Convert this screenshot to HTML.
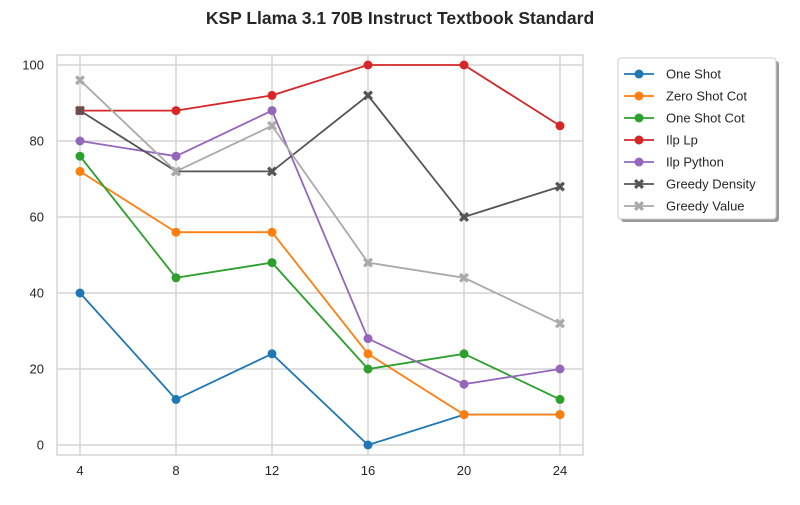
<!DOCTYPE html>
<html><head><meta charset="utf-8"><style>
body{margin:0;background:#fff;font-family:"Liberation Sans",Arial,sans-serif}
svg text{font-family:"Liberation Sans",Arial,sans-serif}
</style></head><body>
<svg id="chart" width="800" height="500" xmlns="http://www.w3.org/2000/svg">
<rect width="800" height="500" fill="#fff"/>
<text x="400" y="24" text-anchor="middle" font-size="17.5" font-weight="bold" fill="#262626">KSP Llama 3.1 70B Instruct Textbook Standard</text>
<g id="grid"></g>
<rect x="57" y="55" width="526" height="400" fill="none" stroke="#cccccc" stroke-width="1.2"/>
<g id="series"></g>
<g id="legend"></g>
</svg>
<script>
const categories=[4,8,12,16,20,24];
const xTicks=[4,8,12,16,20,24];
const yTicks=[0,20,40,60,80,100];
const seriesNames=["One Shot","Zero Shot Cot","One Shot Cot","Ilp Lp","Ilp Python","Greedy Density","Greedy Value"];
const seriesColors=["#1f77b4","#ff7f0e","#2ca02c","#d62728","#9467bd","#555555","#aaaaaa"];
const seriesMarkers=["o","o","o","o","o","x","x"];
const oneShot=[40,12,24,0,8,8];
const zeroShotCot=[72,56,56,24,8,8];
const oneShotCot=[76,44,48,20,24,12];
const ilpLp=[88,88,92,100,100,84];
const ilpPython=[80,76,88,28,16,20];
const greedyDensity=[88,72,72,92,60,68];
const greedyValue=[96,72,84,48,44,32];
const seriesValues=[oneShot,zeroShotCot,oneShotCot,ilpLp,ilpPython,greedyDensity,greedyValue];

const NS="http://www.w3.org/2000/svg";
const xS=v=>80+(v-4)*24;
const yS=v=>445-v*3.8;
function mk(t,a,p){const e=document.createElementNS(NS,t);for(const k in a)e.setAttribute(k,a[k]);p.appendChild(e);return e;}
const grid=document.getElementById('grid');
xTicks.forEach(t=>{
  const l=mk('line',{x1:xS(t),x2:xS(t),y1:55,y2:455,stroke:'#cccccc','stroke-width':1.2},grid);
  
  
  const tx=mk('text',{x:xS(t),y:475,'text-anchor':'middle','font-size':13,fill:'#262626'},grid);
  tx.textContent=t;
  
  
});
yTicks.forEach(t=>{
  const l=mk('line',{x1:57,x2:583,y1:yS(t),y2:yS(t),stroke:'#cccccc','stroke-width':1.2},grid);
  
  
  const tx=mk('text',{x:44,y:yS(t)+4.5,'text-anchor':'end','font-size':13,fill:'#262626'},grid);
  tx.textContent=t;
  
  
});
function marker(type,x,y,c,p){
  if(type==='o'){return mk('circle',{cx:x,cy:y,r:4.5,fill:c},p);}
  const s=5,w=2.3;
  const d=`M${x-s} ${y-s+w}L${x-s+w} ${y-s}L${x} ${y-w}L${x+s-w} ${y-s}L${x+s} ${y-s+w}L${x+w} ${y}L${x+s} ${y+s-w}L${x+s-w} ${y+s}L${x} ${y+w}L${x-s+w} ${y+s}L${x-s} ${y+s-w}L${x-w} ${y}Z`;
  return mk('path',{d:d,fill:c},p);
}
const sg=document.getElementById('series');
seriesValues.forEach((vals,i)=>{
  const g=mk('g',{},sg);
  
  
  const pts=vals.map((v,j)=>xS(categories[j])+','+yS(v)).join(' ');
  mk('polyline',{points:pts,fill:'none',stroke:seriesColors[i],'stroke-width':1.8},g);
  vals.forEach((v,j)=>{
    const m=marker(seriesMarkers[i],xS(categories[j]),yS(v),seriesColors[i],g);
    
    
  });
});
const lg=document.getElementById('legend');


mk('rect',{x:621,y:61,width:158,height:161,fill:'#999',rx:3},lg);
mk('rect',{x:618,y:58,width:158,height:161,fill:'#fff',stroke:'#cccccc',rx:3},lg);
seriesNames.forEach((n,i)=>{
  const y=74+i*22;
  const g=mk('g',{},lg);
  
  
  mk('line',{x1:624,x2:654,y1:y,y2:y,stroke:seriesColors[i],'stroke-width':1.8},g);
  marker(seriesMarkers[i],639,y,seriesColors[i],g);
  const t=mk('text',{x:666,y:y+4.5,'font-size':13,fill:'#262626'},g);
  t.textContent=n;
});
</script>
</body></html>
